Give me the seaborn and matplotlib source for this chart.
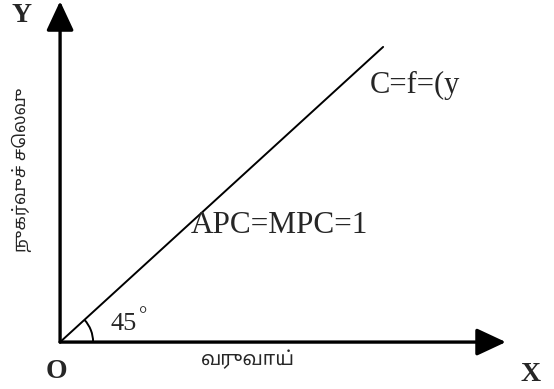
import matplotlib
matplotlib.use('Agg')
import matplotlib.pyplot as plt
import seaborn as sns
import numpy as np
import pandas as pd
from matplotlib.patches import Arc

# 45 degree consumption line: C = Y
income = [0, 10]
consumption = [0, 10]
x_tip = 13.8
y_tip = 11.55
angle_deg = 45

line_label = 'C=f=(y'
slope_label = 'APC=MPC=1'
angle_label = '45'
xlabel = 'வருவாய்'
ylabel = 'நுகர்வுச் செலவு'

sns.set_theme(style='white')
plt.rcParams['font.family'] = ['Liberation Serif', 'DejaVu Serif']
tamil = ['Noto Sans Tamil', 'Lohit Tamil', 'DejaVu Sans']

df = pd.DataFrame({'income': income, 'consumption': consumption})

fig = plt.figure(figsize=(5.54, 3.89), dpi=100)
ax = fig.add_axes([0, 0, 1, 1])
ax.set_xlim(-1.86, 15.29)
ax.set_ylim(-1.59, 11.59)
ax.axis('off')

sns.lineplot(data=df, x='income', y='consumption', color='black', linewidth=1.4, ax=ax)

# axes with arrow heads
arrow = dict(arrowstyle='-|>,head_length=0.9,head_width=0.42', lw=2.4, color='black',
             shrinkA=0, shrinkB=0, mutation_scale=20)
ax.annotate('', xy=(x_tip, 0), xytext=(0, 0), arrowprops=arrow)
ax.annotate('', xy=(0, y_tip), xytext=(0, 0), arrowprops=arrow)

# angle arc
ax.add_patch(Arc((0, 0), 2 * 33 / 32.3, 2 * 33 / 29.5, theta1=0, theta2=angle_deg,
                 color='black', lw=1.4))

ax.text(9.6, 8.7, line_label, fontsize=22, ha='left', va='center')
ax.text(4.05, 3.95, slope_label, fontsize=22.5, ha='left', va='center')
ax.text(1.55, 0.6, angle_label, fontsize=19, ha='left', va='center')
ax.text(2.45, 0.85, '°', fontsize=15, ha='left', va='center')
ax.text(-1.2, 11.05, 'Y', fontsize=20, fontweight='bold', ha='center', va='center')
ax.text(14.55, -1.1, 'X', fontsize=20, fontweight='bold', ha='center', va='center')
ax.text(-0.1, -1.0, 'O', fontsize=20, fontweight='bold', ha='center', va='center')

ax.text(5.8, -0.6, xlabel, fontsize=14, ha='center', va='center', family=tamil)
ax.text(-1.18, 5.83, ylabel, fontsize=12.5, ha='center', va='center', rotation=90,
        family=tamil)

plt.savefig('out.png', dpi=100)
